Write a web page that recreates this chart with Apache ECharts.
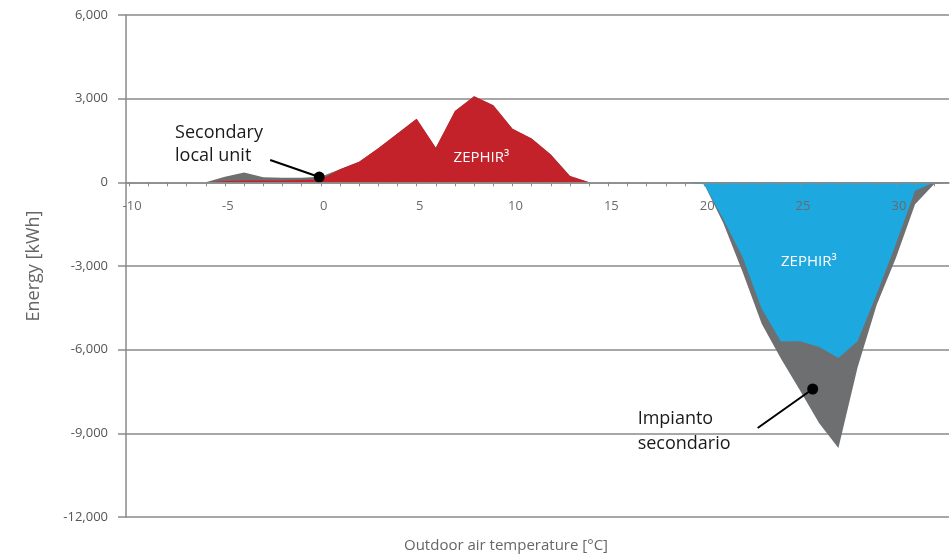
<!DOCTYPE html>
<html><head><meta charset="utf-8">
<script src="https://cdn.jsdelivr.net/npm/echarts@6/dist/echarts.min.js"></script>
<style>html,body{margin:0;padding:0;background:#fff}#c{width:952px;height:558px}</style>
</head><body><div id="c"></div>
<script>
// Outdoor air temperature bins [°C]
const temperatures = [-10,-9,-8,-7,-6,-5,-4,-3,-2,-1,0,1,2,3,4,5,6,7,8,9,10,11,12,13,14,15,16,17,18,19,20,21,22,23,24,25,26,27,28,29,30,31,32,33];
// ZEPHIR3 heating energy [kWh]
const zephirHeating = [0,0,0,0,0,50,70,70,70,80,100,470,740,1220,1750,2280,1240,2560,3090,2760,1920,1570,1000,230,0,0,0,0,0,0,0,0,0,0,0,0,0,0,0,0,0,0,0,0];
// ZEPHIR3 cooling energy [kWh]
const zephirCooling = [0,0,0,0,0,0,0,0,0,0,0,0,0,0,0,0,0,0,0,0,0,0,0,0,0,0,0,0,0,0,-70,-1320,-2680,-4530,-5710,-5700,-5900,-6300,-5700,-4000,-2210,-300,0,0];
// Secondary local unit / impianto secondario [kWh]
const secondaryUnit = [0,0,0,0,0,150,280,110,90,80,100,0,0,0,0,0,0,0,0,0,0,0,0,0,0,0,0,0,0,0,0,-150,-530,-540,-610,-1760,-2740,-3230,-940,-390,-500,-490,-60,0];

const xTickLabels = [-10,-5,0,5,10,15,20,25,30];
const xMinorTicks = [-10,-9,-8,-7,-6,-5,-4,-3,-2,-1,0,1,2,3,4,5,6,7,8,9,10,11,12,13,14,15,16,17,18,19,20,21,22,23,24,25,26,27,28,29,30,31,32];
const yTickLabels = [-12000,-9000,-6000,-3000,0,3000,6000];

const RED = '#c3222b', BLUE = '#1ea8e0', GRAY = '#6d6f71', AXIS = '#8a8a8a';
const FONT = 'Open Sans';

const GRID = {left:126, right:3, top:15, bottom:41};
const yMin = yTickLabels[0], yMax = yTickLabels[yTickLabels.length-1];
const plotH = 558 - GRID.top - GRID.bottom;
// move the x axis (line, ticks, labels) up to the zero level
const xAxisOffset = -(0 - yMin) / (yMax - yMin) * plotH;

// stacked total (ZEPHIR + secondary) drawn behind the ZEPHIR areas
const totalEnergy = temperatures.map((t,i)=>zephirHeating[i] + zephirCooling[i] + secondaryUnit[i]);
function pairs(arr){ return temperatures.map((t,i)=>[t, arr[i]]); }

const chart = echarts.init(document.getElementById('c'), null, {renderer:'canvas'});
const areaSeries = (name, arr, color, extra) => Object.assign({
  name, type:'line', data: pairs(arr),
  symbol:'none', showSymbol:false, smooth:false,
  lineStyle:{width:0, opacity:0},
  areaStyle:{color, opacity:1, origin:0},
  silent:true, animation:false
}, extra || {});

chart.setOption({
  animation:false,
  grid:Object.assign({containLabel:false}, GRID),
  xAxis:{
    type:'value', min:-10.16, max:32.77, z:5, position:'bottom', offset:xAxisOffset,
    axisLine:{onZero:false, lineStyle:{color:AXIS, width:1.5}},
    axisTick:{show:true, customValues:xMinorTicks, length:4, lineStyle:{color:AXIS, width:1}},
    axisLabel:{customValues:xTickLabels, color:'#6a6a6a', fontSize:13, fontFamily:FONT, margin:17, padding:[0,0,0,6]},
    splitLine:{show:false}
  },
  yAxis:{
    type:'value', min:yMin, max:yMax, interval:3000,
    name:'Energy [kWh]', nameLocation:'middle', nameGap:83,
    nameTextStyle:{color:'#666', fontSize:18, fontFamily:FONT},
    axisLine:{show:true, onZero:false, lineStyle:{color:AXIS, width:1.5}},
    axisTick:{show:true, length:8, lineStyle:{color:AXIS, width:1.5}},
    axisLabel:{color:'#555', fontSize:13, fontFamily:FONT, margin:18,
      formatter:v=>v.toLocaleString('en-US')},
    splitLine:{show:true, lineStyle:{color:AXIS, width:1.5}}
  },
  series:[
    areaSeries('Secondary', totalEnergy, GRAY),
    areaSeries('ZEPHIR³ heating', zephirHeating, RED),
    areaSeries('ZEPHIR³ cooling', zephirCooling, BLUE, {
      markLine:{silent:true, symbol:['none','none'], label:{show:false},
        lineStyle:{color:'#000', width:2, type:'solid'},
        data:[
          [{coord:[-2.64, 800]},{coord:[-0.08,190]}],
          [{coord:[22.79,-8810]},{coord:[25.66,-7410]}]
        ]},
      markPoint:{silent:true, symbol:'circle', symbolSize:11, label:{show:false},
        itemStyle:{color:'#000'},
        data:[{coord:[-0.08,190]},{coord:[25.66,-7410]}]}
    })
  ]
});

function px(t,v){ return chart.convertToPixel({gridIndex:0},[t,v]); }
const pSec = px(-7.6, 1770), pImp = px(16.53, -8450), pZh = px(8.38, 870), pZc = px(25.46, -2860);
chart.setOption({
  graphic:[
    {type:'text', x:pSec[0], y:pSec[1]-12, z:100, style:{text:'Secondary\nlocal unit', fill:'#1a1a1a', font:'18px "Open Sans"', lineHeight:23, textAlign:'left', textVerticalAlign:'top'}},
    {type:'text', x:pImp[0], y:pImp[1]-12, z:100, style:{text:'Impianto\nsecondario', fill:'#1a1a1a', font:'18px "Open Sans"', lineHeight:25, textAlign:'left', textVerticalAlign:'top'}},
    {type:'text', x:pZh[0], y:pZh[1], z:100, style:{text:'ZEPHIR³', fill:'#fff', font:'15px "Open Sans"', textAlign:'center', textVerticalAlign:'middle'}},
    {type:'text', x:pZc[0], y:pZc[1], z:100, style:{text:'ZEPHIR³', fill:'#fff', font:'15px "Open Sans"', textAlign:'center', textVerticalAlign:'middle'}},
    {type:'text', x:506, y:546, z:100, style:{text:'Outdoor air temperature [°C]', fill:'#666', font:'15px "Open Sans"', textAlign:'center', textVerticalAlign:'middle'}}
  ]
});
</script></body></html>
